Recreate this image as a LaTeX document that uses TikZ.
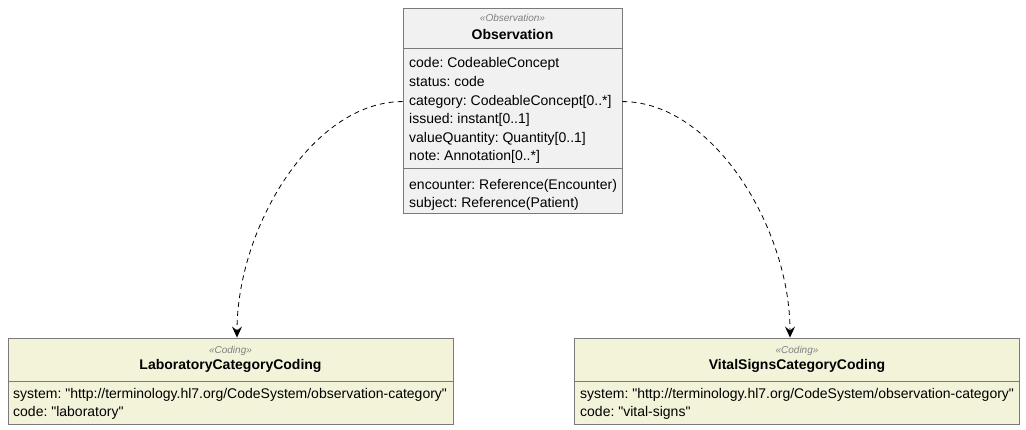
\documentclass[tikz,border=0pt]{standalone}
\usepackage{fontspec}
\setmainfont{Liberation Sans}
\usetikzlibrary{positioning,arrows.meta}
\definecolor{obsfill}{HTML}{F1F1F1}
\definecolor{codfill}{HTML}{F3F3DA}
\definecolor{boxline}{HTML}{7A7A7A}
\newcommand{\qt}{\textquotedbl}
\frenchspacing
\tikzset{
  classbox/.style={draw=boxline, line width=0.9pt, fill=obsfill, inner sep=0pt},
  codingbox/.style={classbox, fill=codfill},
  stereo/.style={inner sep=0pt, font=\fontsize{10}{12}\selectfont\itshape, text=gray},
  cname/.style={inner sep=0pt, font=\fontsize{14}{16}\selectfont\bfseries},
  attr/.style={inner sep=0pt, anchor=base west, font=\fontsize{14}{16}\selectfont},
  dep/.style={dash pattern=on 5pt off 4pt, line width=0.8pt,
    -{Stealth[length=11pt,width=10pt,inset=4pt]}}
}

\begin{document}
\begin{tikzpicture}[x=1pt,y=-1pt]
\useasboundingbox (0,0) rectangle (1026,430);
% Observation
\node[classbox, minimum width=219pt, minimum height=205pt] (obs) at (512.5,110.5) {};
\node[stereo, anchor=base] at (512.5,22) {«Observation»};
\node[cname, anchor=base] at (512.5,40) {Observation};
\draw[boxline, line width=0.9pt] (403,48) -- (622,48);
\node[attr] (code) at (409,68) {code: CodeableConcept};
\node[attr] (status) at (409,86.6) {status: code};
\node[attr] (cat) at (409,105.2) {category: CodeableConcept[0..*]};
\node[attr] (issued) at (409,123.8) {issued: instant[0..1]};
\node[attr] (value) at (409,142.4) {valueQuantity: Quantity[0..1]};
\node[attr] (note) at (409,161) {note: Annotation[0..*]};
\draw[boxline, line width=0.9pt] (403,168) -- (622,168);
\node[attr] (enc) at (409,190) {encounter: Reference(Encounter)};
\node[attr] (subj) at (409,208) {subject: Reference(Patient)};
% Coding boxes
\node[codingbox, minimum width=445pt, minimum height=86pt] (lab) at (230.5,381) {};
\node[stereo, anchor=base] at (230.5,354) {«Coding»};
\node[cname, anchor=base] at (230.5,370) {LaboratoryCategoryCoding};
\draw[boxline, line width=0.9pt] (8,381.5) -- (453,381.5);
\node[attr] (labsys) at (13,399) {system: \qt http://terminology.hl7.org/CodeSystem/observation-category\qt};
\node[attr] (labcode) at (13,417) {code: \qt laboratory\qt};

\node[codingbox, minimum width=445pt, minimum height=86pt] (vital) at (797,381) {};
\node[stereo, anchor=base] at (797,354) {«Coding»};
\node[cname, anchor=base] at (797,370) {VitalSignsCategoryCoding};
\draw[boxline, line width=0.9pt] (574.5,381.5) -- (1019.5,381.5);
\node[attr] (vitsys) at (580,399) {system: \qt http://terminology.hl7.org/CodeSystem/observation-category\qt};
\node[attr] (vitcode) at (580,417) {code: \qt vital-signs\qt};
% dependencies
\draw[dep] (obs.west |- cat) .. controls +(-90,0) and +(0,-110) .. ([xshift=6.5pt]lab.north);
\draw[dep] (obs.east |- cat) .. controls +(90,0) and +(0,-110) .. ([xshift=-7pt]vital.north);
\end{tikzpicture}
\end{document}
